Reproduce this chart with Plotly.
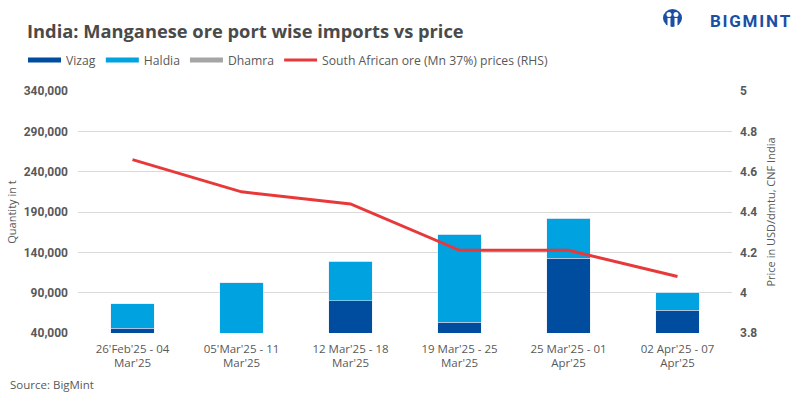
import plotly.graph_objects as go

categories = ["26'Feb'25 - 04<br>Mar'25", "05'Mar'25 - 11<br>Mar'25", "12 Mar'25 - 18<br>Mar'25",
              "19 Mar'25 - 25<br>Mar'25", "25 Mar'25 - 01<br>Apr'25", "02 Apr'25 - 07<br>Apr'25"]
vizag = [46000, 0, 79700, 53600, 132900, 68500]
haldia = [30000, 102000, 49500, 109100, 49600, 22300]
dhamra = [0, 0, 0, 0, 0, 0]
price = [4.66, 4.50, 4.44, 4.21, 4.21, 4.08]

left_ticks = [40000, 90000, 140000, 190000, 240000, 290000, 340000]
right_ticks = [3.8, 4.0, 4.2, 4.4, 4.6, 4.8, 5.0]
right_text = ["3.8", "4", "4.2", "4.4", "4.6", "4.8", "5"]

TXT = "Open Sans, Roboto, sans-serif"
BOLD = "Roboto, Arial, sans-serif"
TITLEF = "Open Sans, Roboto, sans-serif"
GRAY = "#595959"
C_VIZAG, C_HALDIA, C_DHAMRA, C_PRICE = "#004C9F", "#00A2DF", "#A5A5A5", "#E8393A"
BLUE_LOGO = "#1A4FA3"

# plot area (pixels) used for placing decorations
L, R, T, B = 78, 732, 91, 333
PW, PH = R - L, B - T
def px(x): return (x - L) / PW
def py(y): return (B - y) / PH

fig = go.Figure()
fig.add_trace(go.Bar(name="Vizag", x=categories, y=vizag, marker_color=C_VIZAG,
                     legendgroup="v", showlegend=False))
fig.add_trace(go.Bar(name="Haldia", x=categories, y=haldia, marker_color=C_HALDIA,
                     legendgroup="h", showlegend=False))
fig.add_trace(go.Bar(name="Dhamra", x=categories, y=dhamra, marker_color=C_DHAMRA,
                     legendgroup="d", showlegend=False))
# legend swatches drawn as wide bars (like the reference)
for nm, col, grp in [("Vizag", C_VIZAG, "v"), ("Haldia", C_HALDIA, "h"), ("Dhamra", C_DHAMRA, "d")]:
    fig.add_trace(go.Scatter(name=nm, x=[None], y=[None], mode="lines", legendgroup=grp,
                             line=dict(color=col, width=5), hoverinfo="skip"))
fig.add_trace(go.Scatter(name="South African ore (Mn 37%) prices (RHS)", x=categories, y=price,
                         mode="lines", line=dict(color=C_PRICE, width=3), yaxis="y2"))

fig.update_layout(
    width=800, height=398,
    barmode="stack", bargap=0.6,
    plot_bgcolor="white", paper_bgcolor="white",
    margin=dict(l=L, r=800 - R, t=T, b=398 - B, autoexpand=False),
    font=dict(family=TXT, size=11, color=GRAY),
    title=dict(text="<b>India: Manganese ore port wise imports vs price</b>",
               x=27/800, xref="container", xanchor="left",
               y=1-32/398, yref="container", yanchor="middle",
               font=dict(size=18.3, color="#4A4A4A", family=TITLEF)),
    legend=dict(orientation="h", traceorder="normal", x=23/800, xref="container", xanchor="left",
                y=1-60/398, yref="container", yanchor="middle",
                font=dict(size=12.2, color=GRAY, family=TXT),
                itemwidth=33, tracegroupgap=0),
    xaxis=dict(showline=False, ticks="", automargin=False, ticklabelstandoff=7,
               tickfont=dict(size=11.5, color=GRAY, family=TXT)),
    yaxis=dict(range=[40000, 340000], tickvals=left_ticks, tickformat=",",
               gridcolor="#D9D9D9", gridwidth=1, zeroline=False, automargin=False,
               ticklabelstandoff=9,
               tickfont=dict(size=12, color=GRAY, family=BOLD, weight="bold"),
               title=dict(text="Quantity in t", font=dict(size=11, color=GRAY, family=TXT), standoff=4)),
    yaxis2=dict(range=[3.8, 5.0], tickvals=right_ticks, ticktext=right_text,
                overlaying="y", side="right", showgrid=False, zeroline=False, automargin=False,
                ticklabelstandoff=7,
                tickfont=dict(size=12, color=GRAY, family=BOLD, weight="bold"),
                title=dict(text="Price in USD/dmtu, CNF India", font=dict(size=11, color=GRAY, family=TXT), standoff=10)),
)

fig.add_annotation(text="Source: BigMint", xref="paper", yref="paper", x=px(8), y=py(384),
                   xanchor="left", yanchor="middle", showarrow=False,
                   font=dict(size=11.5, color=GRAY, family=TXT))
# logo
fig.add_annotation(text="<b>B\u200aI\u200aG\u200aM\u200aI\u200aN\u200aT</b>", xref="paper", yref="paper",
                   x=px(793), y=py(21), xanchor="right", yanchor="middle", showarrow=False,
                   font=dict(size=17, color=BLUE_LOGO, family=BOLD, weight=900))
fig.add_shape(type="circle", xref="paper", yref="paper", x0=px(663), x1=px(682), y0=py(27), y1=py(9),
              fillcolor=BLUE_LOGO, line=dict(width=0))
for cx in (669, 676):
    fig.add_shape(type="circle", xref="paper", yref="paper", x0=px(cx - 2.5), x1=px(cx + 2.5),
                  y0=py(17), y1=py(12), fillcolor="white", line=dict(width=0))
    fig.add_shape(type="rect", xref="paper", yref="paper", x0=px(cx - 1.5), x1=px(cx + 1.5),
                  y0=py(29), y1=py(18), fillcolor="white", line=dict(width=0))

fig.write_html("out.html", config={"displayModeBar": False},
               post_script="document.body.style.margin='0';")
